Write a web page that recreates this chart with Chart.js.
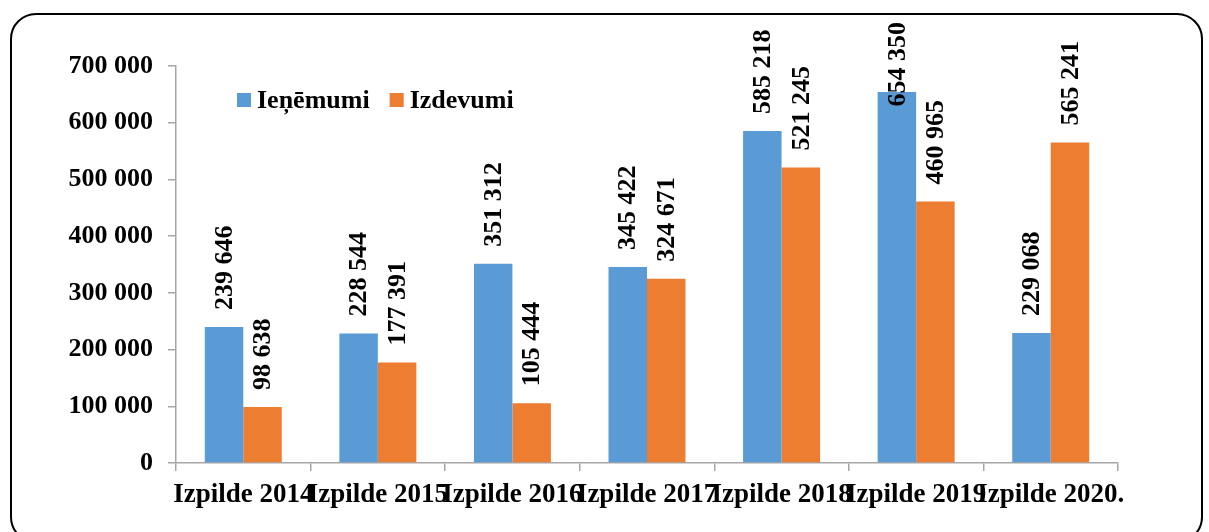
<!DOCTYPE html>
<html>
<head>
<meta charset="utf-8">
<script src="https://cdn.jsdelivr.net/npm/chart.js@4"></script>
<style>
  html, body { margin: 0; padding: 0; background: #fff; }
  #wrap { position: relative; width: 1209px; height: 532px; }
  #frame {
    position: absolute; left: 10px; top: 13px; width: 1193px; height: 530px;
    border: 2px solid #000; border-radius: 26px; box-sizing: border-box;
  }
  canvas { position: absolute; left: 0; top: 0; }
</style>
</head>
<body>
<div id="wrap">
  <div id="frame"></div>
  <canvas id="barChart" width="1209" height="532"></canvas>
</div>
<script>
const categories = ["Izpilde 2014", "Izpilde 2015", "Izpilde 2016", "Izpilde 2017", "Izpilde 2018", "Izpilde 2019", "Izpilde 2020."];
const ienemumi = [239646, 228544, 351312, 345422, 585218, 654350, 229068];
const izdevumi = [98638, 177391, 105444, 324671, 521245, 460965, 565241];
const yTicks = [0, 100000, 200000, 300000, 400000, 500000, 600000, 700000];

const FONT = '"Liberation Serif", "Times New Roman", serif';

function fmt(v) {
  return String(v).replace(/\B(?=(\d{3})+(?!\d))/g, ' ');
}

// rotated value labels + legend drawn inside the plot
const labelsPlugin = {
  id: 'labelsPlugin',
  afterDatasetsDraw(chart) {
    const ctx = chart.ctx;
    ctx.save();
    ctx.font = 'bold 26px ' + FONT;
    ctx.fillStyle = '#000';
    ctx.textBaseline = 'middle';
    ctx.textAlign = 'left';
    chart.data.datasets.forEach((ds, i) => {
      const meta = chart.getDatasetMeta(i);
      meta.data.forEach((bar, j) => {
        const txt = fmt(ds.data[j]);
        const w = ctx.measureText(txt).width;
        let start = bar.y - 17;
        if (start - w < 22) start = 22 + w;
        ctx.save();
        ctx.translate(bar.x + 1, start);
        ctx.rotate(-Math.PI / 2);
        ctx.fillText(txt, 0, 0);
        ctx.restore();
      });
    });

    // legend
    let x = 237;
    const y = 100;
    chart.data.datasets.forEach(ds => {
      ctx.fillStyle = ds.backgroundColor;
      ctx.fillRect(x, y - 7, 14, 14);
      ctx.fillStyle = '#000';
      ctx.fillText(ds.label, x + 20, y + 1);
      x += 20 + ctx.measureText(ds.label).width + 20;
    });
    ctx.restore();
  }
};

const ctxBar = document.getElementById('barChart');

new Chart(ctxBar, {
  type: 'bar',
  data: {
    labels: categories,
    datasets: [{
      label: 'Ieņēmumi',
      data: ienemumi,
      backgroundColor: '#5B9BD5',
      barPercentage: 1,
      categoryPercentage: 0.572
    }, {
      label: 'Izdevumi',
      data: izdevumi,
      backgroundColor: '#ED7D31',
      barPercentage: 1,
      categoryPercentage: 0.572
    }]
  },
  options: {
    responsive: false,
    animation: false,
    layout: {
      padding: { left: 0, right: 91, top: 66, bottom: 0 }
    },
    plugins: {
      legend: { display: false },
      tooltip: { enabled: false }
    },
    scales: {
      x: {
        grid: {
          display: true,
          offset: true,
          drawOnChartArea: false,
          drawTicks: true,
          tickLength: 8,
          color: '#A6A6A6',
          lineWidth: 1.5
        },
        border: { color: '#A6A6A6', width: 1.5 },
        ticks: {
          color: '#000',
          font: { family: FONT, size: 27, weight: 'bold' },
          maxRotation: 0,
          minRotation: 0,
          autoSkip: false,
          padding: 8
        },
        afterFit(scale) { scale.height = 69; }
      },
      y: {
        min: 0,
        max: 700000,
        afterBuildTicks(scale) {
          scale.ticks = yTicks.map(v => ({ value: v }));
        },
        grid: {
          display: true,
          drawOnChartArea: false,
          drawTicks: true,
          tickLength: 8,
          color: '#A6A6A6',
          lineWidth: 1.5
        },
        border: { color: '#A6A6A6', width: 1.5 },
        ticks: {
          color: '#000',
          font: { family: FONT, size: 26, weight: 'bold' },
          padding: 15,
          callback: v => fmt(v)
        },
        afterFit(scale) { scale.width = 176; }
      }
    }
  },
  plugins: [labelsPlugin]
});
</script>
</body>
</html>
